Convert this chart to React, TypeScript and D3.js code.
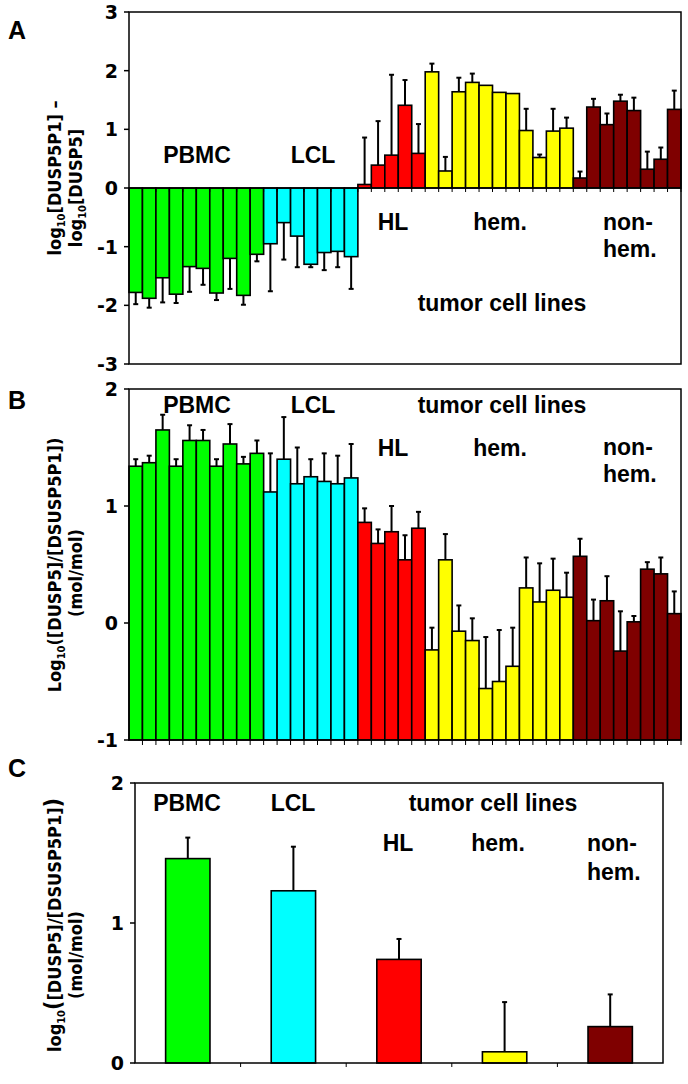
import React from "react";
import * as d3 from "d3";

const groupNames = ["PBMC", "LCL", "HL", "hem.", "non-hem."];
const groupCounts = [10, 7, 5, 11, 8];
const groupColors = ["#00ff00", "#00ffff", "#ff0000", "#ffff00", "#7f0000"];

// Panel A: log10[DUSP5P1] - log10[DUSP5]
const valuesA = [
  -1.78, -1.88, -1.53, -1.81, -1.34, -1.37, -1.79, -1.2, -1.83, -1.13,
  -0.95, -0.59, -0.82, -1.3, -1.1, -1.08, -1.17,
  0.06, 0.39, 0.56, 1.41, 0.59,
  1.98, 0.29, 1.64, 1.8, 1.75, 1.63, 1.61, 0.98, 0.52, 0.97, 1.02,
  0.17, 1.38, 1.08, 1.48, 1.32, 0.32, 0.49, 1.34,
];
const errorsA = [
  0.2, 0.16, 0.42, 0.15, 0.43, 0.28, 0.12, 0.52, 0.16, 0.12,
  0.81, 0.63, 0.53, 0.05, 0.3, 0.27, 0.55,
  0.8, 0.75, 1.37, 0.43, 0.5,
  0.14, 0.24, 0.24, 0.15, 0, 0, 0, 0.37, 0.05, 0.38, 0.18,
  0.11, 0.14, 0.19, 0.11, 0.22, 0.3, 0.2, 0.32,
];

// Panel B: log10([DUSP5]/[DUSP5P1])
const valuesB = [
  1.34, 1.37, 1.65, 1.34, 1.56, 1.56, 1.34, 1.53, 1.36, 1.45,
  1.12, 1.4, 1.19, 1.25, 1.21, 1.19, 1.24,
  0.86, 0.68, 0.78, 0.54, 0.81,
  -0.23, 0.54, -0.07, -0.15, -0.56, -0.5, -0.37, 0.3, 0.18, 0.28, 0.22,
  0.57, 0.02, 0.19, -0.24, 0.01, 0.46, 0.42, 0.08,
];
const errorsB = [
  0.06, 0.06, 0.13, 0.06, 0.13, 0.09, 0.06, 0.17, 0.06, 0.11,
  0.33, 0.36, 0.31, 0.15, 0.24, 0.24, 0.29,
  0.12, 0.12, 0.22, 0.21, 0.14,
  0.19, 0.22, 0.22, 0.19, 0.44, 0.44, 0.33, 0.26, 0.33, 0.27, 0.21,
  0.15, 0.18, 0.21, 0.34, 0.05, 0.06, 0.14, 0.19,
];

// Panel C: group means
const valuesC = [1.46, 1.23, 0.74, 0.08, 0.26];
const errorsC = [0.15, 0.315, 0.146, 0.355, 0.23];

const ticksA = [3, 2, 1, 0, -1, -2, -3];
const ticksB = [2, 1, 0, -1];
const ticksC = [2, 1, 0];

const FONT = "'Liberation Sans', Arial, sans-serif";
const FONT2 = "'DejaVu Sans', Verdana, sans-serif";
const FONT3 = "'DejaVu Sans Condensed', 'DejaVu Sans', sans-serif";

const groupOf: number[] = [];
groupCounts.forEach((c, g) => {
  for (let i = 0; i < c; i++) groupOf.push(g);
});
const idx = valuesA.map((_, i) => String(i));

function ErrorBar({ x, y0, y1 }: { x: number; y0: number; y1: number }) {
  if (Math.abs(y1 - y0) < 0.5) return null;
  return (
    <g stroke="#000" strokeWidth={2}>
      <line x1={x} x2={x} y1={y0} y2={y1} />
      <line x1={x - 2.5} x2={x + 2.5} y1={y1} y2={y1} />
    </g>
  );
}

function YAxis({ scale, ticks, x }: { scale: d3.ScaleLinear<number, number>; ticks: number[]; x: number }) {
  return (
    <g>
      {ticks.map((t) => (
        <g key={t}>
          <line x1={x - 5} x2={x} y1={scale(t)} y2={scale(t)} stroke="#000" strokeWidth={1.5} />
          <text
            x={x - 11}
            y={scale(t)}
            dy="0.36em"
            textAnchor="end"
            fontFamily={FONT2}
            fontWeight="bold"
            fontSize={19}
          >
            {t}
          </text>
        </g>
      ))}
    </g>
  );
}

function Label({ x, y, text, anchor = "middle" }: { x: number; y: number; text: string; anchor?: string }) {
  return (
    <text x={x} y={y} dy="0.35em" textAnchor={anchor as any} fontFamily={FONT} fontWeight="bold" fontSize={23}>
      {text}
    </text>
  );
}

function Title({ cx, cy, children }: { cx: number; cy: number; children: React.ReactNode }) {
  return (
    <text
      transform={`translate(${cx},${cy}) rotate(-90)`}
      textAnchor="middle"
      dy="0.36em"
      fontFamily={FONT3}
      fontWeight="bold"
      fontSize={18}
    >
      {children}
    </text>
  );
}

export default function App() {
  const L = 129,
    R = 681;
  const x = d3.scaleBand<string>().domain(idx).range([L, R]).padding(0);
  const bw = x.bandwidth();

  const yA = d3.scaleLinear().domain([-3, 3]).range([364, 12]);
  const yB = d3.scaleLinear().domain([-1, 2]).range([740, 389]);

  const xC = d3.scaleBand<string>().domain(groupNames).range([135, 663]).paddingInner(0.58).paddingOuter(0.29);
  const yC = d3.scaleLinear().domain([0, 2]).range([1063, 783]);

  return (
    <svg width={688} height={1084} style={{ position: "absolute", left: 0, top: 0, background: "#fff" }}>
      <rect width={688} height={1084} fill="#fff" />

      {/* Panel A */}
      <g>
        {valuesA.map((v, i) => {
          const y0 = yA(0),
            y1 = yA(v);
          return (
            <rect
              key={i}
              x={x(String(i))}
              y={Math.min(y0, y1)}
              width={bw}
              height={Math.abs(y1 - y0)}
              fill={groupColors[groupOf[i]]}
              stroke="#000"
              strokeWidth={1.6}
            />
          );
        })}
        {valuesA.map((v, i) => (
          <ErrorBar
            key={i}
            x={x(String(i))! + bw / 2}
            y0={yA(v)}
            y1={yA(v + Math.sign(v) * errorsA[i])}
          />
        ))}
        <line x1={L} x2={R} y1={yA(0)} y2={yA(0)} stroke="#000" strokeWidth={1.5} />
        {idx.map((d, i) => (
          <line key={i} x1={x(d)! + bw} x2={x(d)! + bw} y1={yA(0)} y2={yA(0) + 4} stroke="#000" strokeWidth={1} />
        ))}
        <rect x={L} y={yA(3)} width={R - L} height={yA(-3) - yA(3)} fill="none" stroke="#000" strokeWidth={1.5} />
        <YAxis scale={yA} ticks={ticksA} x={L} />
        <Label x={197} y={155} text="PBMC" />
        <Label x={313} y={155} text="LCL" />
        <Label x={393} y={222} text="HL" />
        <Label x={500} y={222} text="hem." />
        <Label x={603} y={222} text="non-" anchor="start" />
        <Label x={603} y={249} text="hem." anchor="start" />
        <Label x={502} y={303} text="tumor cell lines" />
        <text x={8} y={30} dy="0.35em" fontFamily={FONT} fontWeight="bold" fontSize={25}>
          A
        </text>
        <Title cx={55} cy={178}>
          log<tspan fontSize={11} dy={4}>10</tspan>
          <tspan dy={-4}>[DUSP5P1] –</tspan>
        </Title>
        <Title cx={76} cy={188}>
          log<tspan fontSize={11} dy={4}>10</tspan>
          <tspan dy={-4}>[DUSP5]</tspan>
        </Title>
      </g>

      {/* Panel B */}
      <g>
        {valuesB.map((v, i) => {
          const y0 = yB(-1),
            y1 = yB(v);
          return (
            <rect
              key={i}
              x={x(String(i))}
              y={y1}
              width={bw}
              height={y0 - y1}
              fill={groupColors[groupOf[i]]}
              stroke="#000"
              strokeWidth={1.6}
            />
          );
        })}
        {valuesB.map((v, i) => (
          <ErrorBar key={i} x={x(String(i))! + bw / 2} y0={yB(v)} y1={yB(v + errorsB[i])} />
        ))}
        {idx.map((d, i) => (
          <line key={i} x1={x(d)! + bw} x2={x(d)! + bw} y1={yB(-1)} y2={yB(-1) + 5} stroke="#000" strokeWidth={1} />
        ))}
        <rect x={L} y={yB(2)} width={R - L} height={yB(-1) - yB(2)} fill="none" stroke="#000" strokeWidth={1.5} />
        <YAxis scale={yB} ticks={ticksB} x={L} />
        <Label x={197} y={405} text="PBMC" />
        <Label x={313} y={405} text="LCL" />
        <Label x={502} y={405} text="tumor cell lines" />
        <Label x={393} y={448} text="HL" />
        <Label x={500} y={448} text="hem." />
        <Label x={603} y={447} text="non-" anchor="start" />
        <Label x={603} y={474} text="hem." anchor="start" />
        <text x={8} y={400} dy="0.35em" fontFamily={FONT} fontWeight="bold" fontSize={25}>
          B
        </text>
        <Title cx={55} cy={565}>
          Log<tspan fontSize={11} dy={4}>10</tspan>
          <tspan dy={-4}>([DUSP5]/[DSUSP5P1])</tspan>
        </Title>
        <Title cx={76} cy={573}>(mol/mol)</Title>
      </g>

      {/* Panel C */}
      <g>
        {valuesC.map((v, i) => (
          <rect
            key={i}
            x={xC(groupNames[i])}
            y={yC(v)}
            width={xC.bandwidth()}
            height={yC(0) - yC(v)}
            fill={groupColors[i]}
            stroke="#000"
            strokeWidth={1.6}
          />
        ))}
        {valuesC.map((v, i) => (
          <ErrorBar key={i} x={xC(groupNames[i])! + xC.bandwidth() / 2} y0={yC(v)} y1={yC(v + errorsC[i])} />
        ))}
        {groupNames.slice(1).map((g, i) => {
          const bx = xC(g)! - (xC.step() * 0.58) / 2;
          return <line key={i} x1={bx} x2={bx} y1={yC(0)} y2={yC(0) + 4} stroke="#000" strokeWidth={1} />;
        })}
        <rect x={135} y={yC(2)} width={663 - 135} height={yC(0) - yC(2)} fill="none" stroke="#000" strokeWidth={1.5} />
        <YAxis scale={yC} ticks={ticksC} x={135} />
        <Label x={187} y={803} text="PBMC" />
        <Label x={293} y={803} text="LCL" />
        <Label x={493} y={803} text="tumor cell lines" />
        <Label x={398} y={843} text="HL" />
        <Label x={498} y={843} text="hem." />
        <Label x={587} y={843} text="non-" anchor="start" />
        <Label x={587} y={872} text="hem." anchor="start" />
        <text x={8} y={768} dy="0.35em" fontFamily={FONT} fontWeight="bold" fontSize={25}>
          C
        </text>
        <Title cx={55} cy={925}>
          log<tspan fontSize={11} dy={4}>10</tspan>
          <tspan dy={-4} fontSize={23}>(</tspan>
          <tspan fontSize={18}>[DUSP5]/[DSUSP5P1]</tspan>
          <tspan fontSize={23}>)</tspan>
        </Title>
        <Title cx={76} cy={955}>(mol/mol)</Title>
      </g>
    </svg>
  );
}
